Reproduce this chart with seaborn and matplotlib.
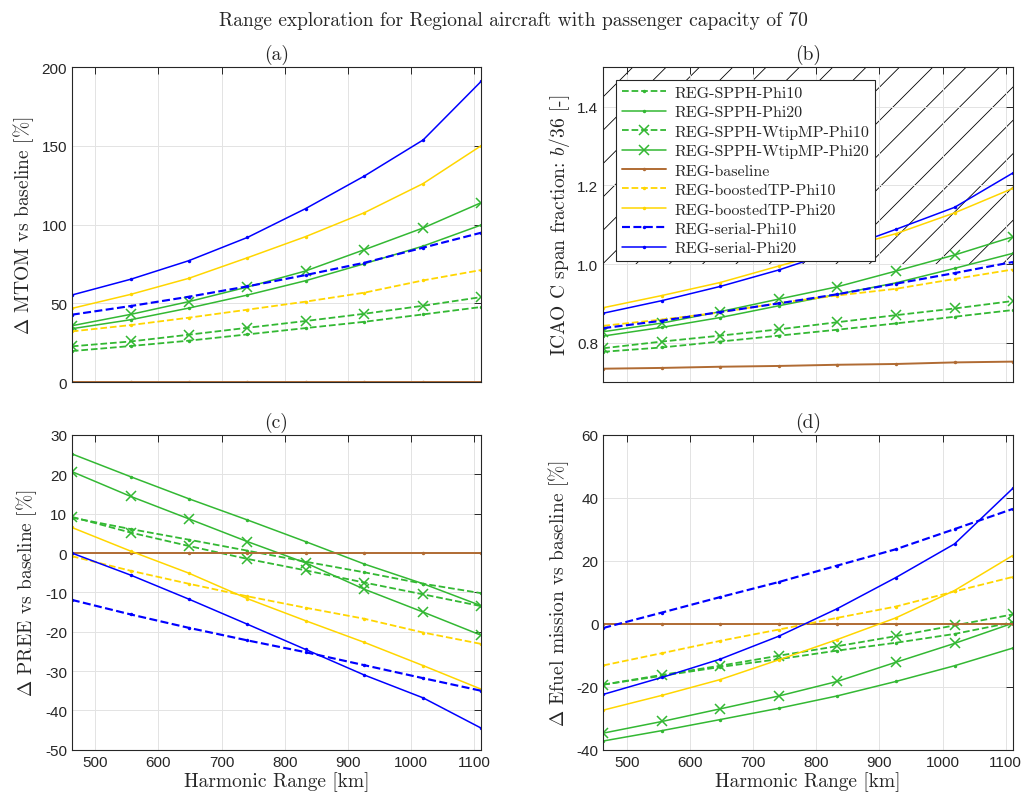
import numpy as np
import pandas as pd
import matplotlib
matplotlib.use("Agg")
import matplotlib.pyplot as plt
import seaborn as sns

range_km = [463, 556, 648, 741, 833, 926, 1019, 1111]

series = ["REG-SPPH-Phi10", "REG-SPPH-Phi20", "REG-SPPH-WtipMP-Phi10",
          "REG-SPPH-WtipMP-Phi20", "REG-baseline", "REG-boostedTP-Phi10",
          "REG-boostedTP-Phi20", "REG-serial-Phi10", "REG-serial-Phi20"]

# (a) delta MTOM [%]
mtom = {
    "REG-SPPH-Phi10": [19.7, 22.9, 26.3, 30.3, 34.3, 38.3, 43.0, 47.7],
    "REG-SPPH-Phi20": [33.9, 39.6, 47.0, 55.3, 64.4, 75.2, 86.4, 99.8],
    "REG-SPPH-WtipMP-Phi10": [22.7, 25.8, 30.1, 34.5, 38.8, 43.4, 48.5, 54.0],
    "REG-SPPH-WtipMP-Phi20": [35.8, 43.0, 51.1, 60.4, 70.6, 84.1, 97.9, 114.0],
    "REG-baseline": [0, 0, 0, 0, 0, 0, 0, 0],
    "REG-boostedTP-Phi10": [32.2, 36.2, 40.9, 46.0, 51.1, 56.8, 64.6, 71.2],
    "REG-boostedTP-Phi20": [46.8, 55.7, 65.9, 79.0, 92.4, 107.6, 126.1, 150.2],
    "REG-serial-Phi10": [42.8, 48.3, 54.2, 60.8, 68.0, 75.8, 85.4, 94.9],
    "REG-serial-Phi20": [55.3, 65.3, 77.1, 91.9, 110.2, 130.9, 153.8, 191.1],
}

# (b) ICAO C span fraction b/36
span = {
    "REG-SPPH-Phi10": [0.777, 0.788, 0.803, 0.818, 0.833, 0.849, 0.866, 0.883],
    "REG-SPPH-Phi20": [0.817, 0.839, 0.864, 0.894, 0.923, 0.952, 0.989, 1.027],
    "REG-SPPH-WtipMP-Phi10": [0.786, 0.803, 0.818, 0.834, 0.852, 0.870, 0.887, 0.906],
    "REG-SPPH-WtipMP-Phi20": [0.828, 0.850, 0.879, 0.911, 0.942, 0.982, 1.023, 1.069],
    "REG-baseline": [0.734, 0.736, 0.739, 0.741, 0.744, 0.746, 0.750, 0.752],
    "REG-boostedTP-Phi10": [0.843, 0.859, 0.877, 0.901, 0.920, 0.937, 0.962, 0.986],
    "REG-boostedTP-Phi20": [0.889, 0.920, 0.953, 0.995, 1.036, 1.077, 1.130, 1.192],
    "REG-serial-Phi10": [0.837, 0.856, 0.878, 0.900, 0.923, 0.950, 0.977, 1.005],
    "REG-serial-Phi20": [0.875, 0.907, 0.943, 0.985, 1.034, 1.088, 1.144, 1.231],
}

# (c) delta PREE [%]
pree = {
    "REG-SPPH-Phi10": [9.0, 6.1, 3.4, 0.6, -2.2, -4.9, -7.8, -10.2],
    "REG-SPPH-Phi20": [25.2, 19.4, 13.8, 8.4, 2.9, -2.8, -7.8, -13.4],
    "REG-SPPH-WtipMP-Phi10": [9.2, 5.2, 1.8, -1.5, -4.4, -7.5, -10.5, -13.5],
    "REG-SPPH-WtipMP-Phi20": [20.7, 14.4, 8.7, 2.9, -2.5, -9.2, -15.0, -20.9],
    "REG-baseline": [0, 0, 0, 0, 0, 0, 0, 0],
    "REG-boostedTP-Phi10": [-0.8, -4.5, -7.8, -11.0, -13.9, -16.7, -20.2, -23.1],
    "REG-boostedTP-Phi20": [6.5, 0.5, -5.1, -11.6, -17.2, -22.7, -28.6, -34.6],
    "REG-serial-Phi10": [-11.9, -15.6, -19.0, -22.2, -25.2, -28.5, -31.8, -35.0],
    "REG-serial-Phi20": [0.0, -5.6, -11.7, -18.1, -24.5, -31.0, -36.8, -44.5],
}

# (d) delta Efuel mission [%]
efuel = {
    "REG-SPPH-Phi10": [-19.3, -16.5, -13.7, -11.2, -8.5, -6.0, -3.2, 0.5],
    "REG-SPPH-Phi20": [-37.2, -33.9, -30.4, -26.8, -22.9, -18.3, -13.3, -7.7],
    "REG-SPPH-WtipMP-Phi10": [-19.3, -16.2, -13.3, -10.1, -7.1, -3.9, -0.5, 3.0],
    "REG-SPPH-WtipMP-Phi20": [-34.7, -31.0, -27.0, -22.9, -18.3, -12.2, -6.2, 0.2],
    "REG-baseline": [0, 0, 0, 0, 0, 0, 0, 0],
    "REG-boostedTP-Phi10": [-13.2, -9.3, -5.4, -1.8, 1.9, 5.5, 10.3, 14.9],
    "REG-boostedTP-Phi20": [-27.4, -22.7, -17.7, -11.4, -5.0, 1.9, 10.6, 21.7],
    "REG-serial-Phi10": [-1.3, 3.6, 8.5, 13.3, 18.5, 23.7, 30.1, 36.5],
    "REG-serial-Phi20": [-22.4, -17.0, -11.2, -3.9, 4.8, 14.7, 25.4, 43.0],
}

GREEN = (0.2, 0.72, 0.2)
YELLOW = (1.0, 0.84, 0.0)
BLUE = (0.0, 0.0, 1.0)
BROWN = (0.69, 0.42, 0.2)

styles = {
    "REG-SPPH-Phi10": dict(color=GREEN, ls="--", marker=".", lw=1.3),
    "REG-SPPH-Phi20": dict(color=GREEN, ls="-", marker=".", lw=1.1),
    "REG-SPPH-WtipMP-Phi10": dict(color=GREEN, ls="--", marker="x", lw=1.3),
    "REG-SPPH-WtipMP-Phi20": dict(color=GREEN, ls="-", marker="x", lw=1.1),
    "REG-baseline": dict(color=BROWN, ls="-", marker=".", lw=1.4),
    "REG-boostedTP-Phi10": dict(color=YELLOW, ls="--", marker=".", lw=1.3),
    "REG-boostedTP-Phi20": dict(color=YELLOW, ls="-", marker=".", lw=1.1),
    "REG-serial-Phi10": dict(color=BLUE, ls="--", marker=".", lw=1.55),
    "REG-serial-Phi20": dict(color=BLUE, ls="-", marker=".", lw=1.1),
}

sns.set_style("white")
plt.rcParams["font.family"] = ["cmr10", "DejaVu Serif"]
plt.rcParams["mathtext.fontset"] = "cm"
plt.rcParams["axes.unicode_minus"] = False
plt.rcParams["hatch.linewidth"] = 0.6

TICKFONT = "Liberation Sans"

fig, axes = plt.subplots(2, 2, figsize=(10.26, 8.03), dpi=100)
fig.subplots_adjust(left=0.070, right=0.987, top=0.915, bottom=0.065,
                    wspace=0.298, hspace=0.168)

panels = [
    (axes[0, 0], mtom, "(a)", r"$\Delta$ MTOM vs baseline [%]", (0, 200), np.arange(0, 201, 50)),
    (axes[0, 1], span, "(b)", r"ICAO C span fraction: $b/36$ [-]", (0.7, 1.5), [0.8, 1.0, 1.2, 1.4]),
    (axes[1, 0], pree, "(c)", r"$\Delta$ PREE vs baseline [%]", (-50, 30), np.arange(-50, 31, 10)),
    (axes[1, 1], efuel, "(d)", r"$\Delta$ Efuel mission vs baseline [%]", (-40, 60), np.arange(-40, 61, 20)),
]

for i, (ax, data, title, ylabel, ylim, yticks) in enumerate(panels):
    if title == "(b)":
        ax.axhspan(1.0, ylim[1], facecolor="none", edgecolor="k",
                   hatch="/", linewidth=0, zorder=0.5)
    for name in series:
        st = styles[name]
        ms = 7 if st["marker"] == "x" else 5
        sns.lineplot(x=range_km, y=data[name], ax=ax, color=st["color"],
                     linestyle=st["ls"], marker=st["marker"], markersize=ms,
                     markeredgewidth=1.1 if st["marker"] == "x" else 0,
                     markeredgecolor=st["color"],
                     linewidth=st["lw"], label=name, legend=False,
                     dashes=(6, 3.2) if st["ls"] == "--" else "")
    ax.set_xlim(463, 1111)
    ax.set_ylim(*ylim)
    ax.set_xticks(np.arange(500, 1101, 100))
    ax.set_yticks(yticks)
    ax.grid(True, color="0.89", linewidth=0.7)
    ax.set_axisbelow(True)
    ax.tick_params(direction="in", top=True, right=True, length=5,
                   width=0.7, color="0.15", labelcolor="0.15", labelsize=11)
    for lab in ax.get_xticklabels() + ax.get_yticklabels():
        lab.set_fontfamily(TICKFONT)
    for sp in ax.spines.values():
        sp.set_color("0.15")
        sp.set_linewidth(0.8)
    ax.set_title(title, fontsize=14, pad=6)
    ax.set_ylabel(ylabel, fontsize=14)
    if i < 2:
        ax.tick_params(labelbottom=False)
        ax.set_xlabel("")
    else:
        ax.set_xlabel("Harmonic Range [km]", fontsize=14, labelpad=2)

ax_b = axes[0, 1]
handles, labels = ax_b.get_legend_handles_labels()
leg = ax_b.legend(handles[-9:], labels[-9:], loc="upper left", fontsize=11.5,
                  frameon=True, fancybox=False, framealpha=1, edgecolor="0.15",
                  handlelength=2.8, labelspacing=0.33, borderaxespad=0.8,
                  borderpad=0.35, handletextpad=0.5)
leg.get_frame().set_linewidth(0.8)

fig.suptitle("Range exploration for Regional aircraft with passenger capacity of 70",
             fontsize=14, y=0.985)

fig.savefig("out.png", dpi=100)
